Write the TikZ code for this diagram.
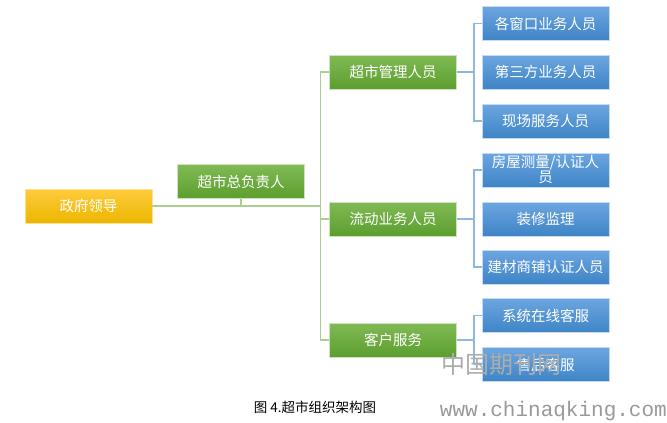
\documentclass[tikz,border=0pt]{standalone}
\usepackage{fontspec}
\setmainfont{Noto Sans CJK SC}
\newfontfamily\wmfont{Liberation Mono}
\definecolor{govtop}{HTML}{FFCB3D}
\definecolor{govbot}{HTML}{EBB600}
\definecolor{greentop}{HTML}{80BA55}
\definecolor{greenbot}{HTML}{5C9E2E}
\definecolor{bluetop}{HTML}{6CA6E0}
\definecolor{bluebot}{HTML}{3E84C6}
\definecolor{greenline}{HTML}{A9D08E}
\definecolor{blueline}{HTML}{8DB8E2}

\begin{document}
\begin{tikzpicture}[x=1pt, y=-1pt]
            \tikzstyle{box} = [minimum width=127pt, minimum height=34pt, inner sep=1pt, align=center, text=white, font=\fontsize{14.5}{15}\selectfont]
            \tikzstyle{gov box} = [box, top color=govtop, bottom color=govbot, draw=govtop!60!white]
            \tikzstyle{mgr box} = [box, top color=greentop, bottom color=greenbot, draw=greentop!40!white]
            \tikzstyle{staff box} = [box, top color=bluetop, bottom color=bluebot, draw=bluetop!40!white]
            \tikzstyle{green link} = [draw=greenline, line width=1.5pt]
            \tikzstyle{blue link} = [draw=blueline, line width=1.5pt]

            \useasboundingbox (0, 0) rectangle (667, 423);

            \node[gov box] (gov) at (88.5, 206) {政府领导};
            \node[mgr box] (head) at (241, 181.5) {超市总负责人};

            \node[mgr box] (mgr) at (393, 72) {超市管理人员};
            \node[mgr box] (flow) at (393, 219) {流动业务人员};
            \node[mgr box] (cust) at (393, 340) {客户服务};

            \node[staff box] (win) at (545.5, 23.5) {各窗口业务人员};
            \node[staff box] (third) at (545.5, 72) {第三方业务人员};
            \node[staff box] (site) at (545.5, 121) {现场服务人员};
            \node[staff box] (survey) at (545.5, 170) {房屋测量/认证人\\员};
            \node[staff box] (decor) at (545.5, 219) {装修监理};
            \node[staff box] (shop) at (545.5, 267) {建材商铺认证人员};
            \node[staff box] (online) at (545.5, 315.5) {系统在线客服};
            \node[staff box] (after) at (545.5, 364.5) {售后客服};

            \draw[green link] (gov.east) -- (321, 206);
            \draw[green link] (head.south) -- (head.south |- gov.east);
            \draw[green link] (mgr.west) -- ++(-9, 0) |- (cust.west);
            \draw[green link] (flow.west) -- ++(-9, 0);

            \draw[blue link] (mgr.east) -- ++(18, 0);
            \draw[blue link] (win.west) -- ++(-8, 0) |- (site.west);
            \draw[blue link] (flow.east) -- ++(18, 0);
            \draw[blue link] (survey.west) -- ++(-8, 0) |- (shop.west);
            \draw[blue link] (cust.east) -- ++(18, 0);
            \draw[blue link] (online.west) -- ++(-8, 0) |- (after.west);

            \node[font=\fontsize{13.5}{14}\selectfont] (caption) at (315, 407) {图 4.超市组织架构图};
            \node[text=gray!65, font=\fontsize{24}{24}\selectfont] (mark) at (501, 364) {中国期刊网};
            \node[text=gray!80, font=\wmfont\fontsize{21}{21}\selectfont, anchor=east, inner sep=0pt] (site url) at (667, 411) {www.chinaqking.com};
        \end{tikzpicture}
\end{document}
